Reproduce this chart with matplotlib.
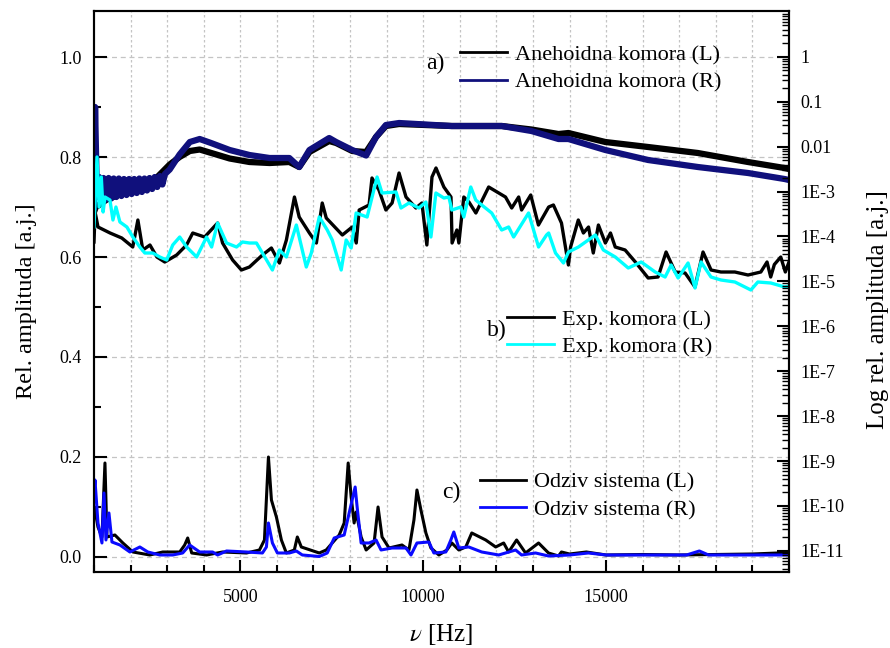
import numpy as np
import matplotlib
matplotlib.use("Agg")
import matplotlib.pyplot as plt
from matplotlib.lines import Line2D
from matplotlib.ticker import MultipleLocator, LogLocator, FixedLocator, FixedFormatter, NullFormatter

plt.rcParams['font.family'] = ['Liberation Serif', 'DejaVu Serif']
plt.rcParams['mathtext.fontset'] = 'stix'

# a) anechoic chamber (left / right channel)
anech_L_hz = [1000, 1050, 1350, 1980, 2530, 3070, 3340, 3620, 3890, 4710, 5250, 5800, 6340,
              6610, 6890, 7430, 7620, 8060, 8440, 8710, 8980, 9340, 10780, 12150, 12960,
              13700, 13970, 14980, 16150, 17510, 18880, 19880, 20000]
anech_L = [0.69, 0.70, 0.715, 0.733, 0.745, 0.785, 0.80, 0.812, 0.815, 0.797, 0.79, 0.788, 0.79,
           0.78, 0.81, 0.832, 0.828, 0.812, 0.81, 0.84, 0.862, 0.866, 0.862, 0.862, 0.855,
           0.846, 0.848, 0.83, 0.82, 0.808, 0.79, 0.778, 0.776]

anech_R_hz = [1000, 1030, 1080, 1140, 1200, 1260, 1330, 1400, 1470, 1540, 1610, 1680, 1750,
              1820, 1890, 1960, 2030, 2100, 2170, 2240, 2310, 2380, 2450, 2520, 2590, 2660,
              2730, 2800, 2870, 2940, 3070, 3340, 3620, 3890, 4200, 4710, 5250, 5800, 6340, 6610,
              6890, 7430, 7620, 8060, 8440, 8710, 8980, 9340, 10780, 12150, 12960, 13700,
              13970, 14980, 16150, 17510, 18880, 19880, 20000]
anech_R = [0.70, 0.90, 0.72, 0.76, 0.712, 0.758, 0.715, 0.758, 0.717, 0.757, 0.72, 0.757, 0.722,
           0.756, 0.724, 0.756, 0.726, 0.756, 0.728, 0.757, 0.73, 0.757, 0.733, 0.758, 0.736, 0.76,
           0.74, 0.762, 0.745, 0.766, 0.775, 0.805, 0.83, 0.836, 0.828, 0.814, 0.804, 0.798, 0.798, 0.78,
           0.814, 0.838, 0.83, 0.814, 0.803, 0.84, 0.864, 0.868, 0.862, 0.862, 0.852, 0.836,
           0.836, 0.814, 0.794, 0.78, 0.768, 0.756, 0.754]

# b) experimental chamber
exp_L_hz = [1000, 1030, 1110, 1440, 1760, 2060, 2200, 2335, 2530, 2720, 2935, 3260, 3530, 3700,
            4025, 4380, 4515, 4790, 5030, 5250, 5605, 5850, 6070, 6260, 6480, 6610, 6890, 7080,
            7240, 7350, 7790, 8060, 8170, 8250, 8520, 8600, 8790, 8980, 9150, 9340, 9530, 9800,
            9965, 10100, 10240, 10350, 10565, 10760, 10790, 10920, 10975, 11110, 11250, 11440,
            11790, 12250, 12420, 12610, 12690, 12940, 13150, 13430, 13560, 13780, 13970, 14030,
            14240, 14380, 14520, 14650, 14790, 14980, 15120, 15250, 15520, 15800, 16150, 16420,
            16640, 16890, 17160, 17430, 17650, 17870, 18140, 18520, 18880, 19230, 19400, 19500,
            19600, 19775, 19900, 20000]
exp_L = [0.63, 0.69, 0.66, 0.648, 0.638, 0.62, 0.674, 0.614, 0.624, 0.60, 0.59, 0.604, 0.624, 0.648,
         0.64, 0.668, 0.628, 0.594, 0.574, 0.58, 0.604, 0.618, 0.588, 0.634, 0.72, 0.68, 0.648, 0.628,
         0.708, 0.678, 0.644, 0.66, 0.628, 0.694, 0.704, 0.758, 0.734, 0.694, 0.708, 0.768, 0.72, 0.698,
         0.708, 0.624, 0.76, 0.778, 0.74, 0.72, 0.628, 0.654, 0.628, 0.72, 0.71, 0.688,
         0.74, 0.72, 0.698, 0.72, 0.694, 0.724, 0.664, 0.70, 0.704, 0.668, 0.584, 0.62,
         0.674, 0.648, 0.66, 0.608, 0.664, 0.628, 0.648, 0.62, 0.614, 0.59, 0.558, 0.56,
         0.61, 0.57, 0.568, 0.54, 0.61, 0.574, 0.57, 0.57, 0.564, 0.57, 0.59, 0.56,
         0.585, 0.60, 0.57, 0.59]

exp_R_hz = [1000, 1082, 1140, 1200, 1250, 1300, 1436, 1518, 1600, 1709, 1899, 2063, 2254, 2390,
            2608, 2799, 2989, 3153, 3344, 3534, 3807, 4079, 4216, 4379, 4624, 4897, 5060, 5251,
            5442, 5605, 5878, 6069, 6259, 6532, 6804, 6941, 7159, 7377, 7513, 7758, 7894, 8031,
            8167, 8467, 8739, 8875, 9257, 9393, 9611, 9884, 10074, 10211, 10347, 10565, 10701,
            10783, 11028, 11110, 11301, 11437, 11600, 11873, 12145, 12336, 12472, 12881, 13154,
            13372, 13430, 13617, 13835, 13971, 14244, 14707, 14925, 15252, 15606, 15960, 16342,
            16614, 16778, 16969, 17241, 17432, 17595, 17868, 18140, 18522, 18958, 19149, 19503,
            19884, 20000]
exp_R = [0.66, 0.80, 0.70, 0.76, 0.69, 0.72, 0.714, 0.674, 0.70, 0.67, 0.66, 0.64, 0.62, 0.608,
         0.608, 0.60, 0.594, 0.624, 0.64, 0.62, 0.60, 0.64, 0.62, 0.668, 0.628, 0.62, 0.63, 0.628,
         0.628, 0.608, 0.574, 0.614, 0.60, 0.664, 0.58, 0.608, 0.68, 0.654, 0.634, 0.574, 0.634, 0.618,
         0.688, 0.68, 0.76, 0.728, 0.73, 0.698, 0.708, 0.698, 0.71, 0.64, 0.728, 0.718, 0.72,
         0.694, 0.70, 0.68, 0.74, 0.714, 0.704, 0.688, 0.654, 0.66, 0.64, 0.688, 0.62,
         0.644, 0.648, 0.608, 0.588, 0.61, 0.62, 0.644, 0.614, 0.60, 0.578, 0.59, 0.57,
         0.56, 0.584, 0.558, 0.588, 0.538, 0.59, 0.56, 0.554, 0.55, 0.534, 0.55, 0.548,
         0.54, 0.542]

# c) system response
sys_L_hz = [1000, 1027, 1109, 1218, 1300, 1354, 1572, 1790, 2063, 2526, 2880, 3344, 3480, 3562,
            3671, 4079, 4515, 5169, 5524, 5660, 5769, 5851, 5987, 6123, 6259, 6477, 6559, 6668,
            7077, 7159, 7349, 7513, 7704, 7840, 7949, 8031, 8112, 8167, 8303, 8440, 8657, 8766,
            8875, 9066, 9420, 9611, 9747, 9829, 9938, 10074, 10211, 10429, 10647, 10783, 10974,
            11164, 11328, 11709, 11982, 12200, 12336, 12554, 12799, 13154, 13426, 13699, 13780,
            14000, 14462, 15000, 16000, 17000, 18000, 19000, 19700, 20000]
sys_L = [0.10, 0.094, 0.06, 0.04, 0.188, 0.04, 0.044, 0.028, 0.01, 0.004, 0.01, 0.01, 0.024, 0.038,
         0.008, 0.004, 0.01, 0.008, 0.014, 0.034, 0.20, 0.114, 0.08, 0.034, 0.008, 0.014, 0.04, 0.02,
         0.01, 0.008, 0.014, 0.028, 0.044, 0.068, 0.188, 0.12, 0.068, 0.09, 0.04, 0.014, 0.028, 0.10,
         0.04, 0.018, 0.024, 0.014, 0.074, 0.134, 0.094, 0.048, 0.018, 0.004, 0.014, 0.028, 0.014,
         0.02, 0.048, 0.034, 0.02, 0.028, 0.01, 0.034, 0.008, 0.028, 0.008, 0.002, 0.01,
         0.006, 0.01, 0.004, 0.005, 0.004, 0.005, 0.006, 0.008, 0.008]

sys_R_hz = [1000, 1027, 1109, 1218, 1273, 1327, 1409, 1491, 1709, 1981, 2254, 2472, 2799, 3153,
            3425, 3616, 3889, 4243, 4379, 4624, 5169, 5605, 5714, 5769, 5878, 6014, 6341, 6532,
            6695, 7159, 7377, 7567, 7840, 7976, 8140, 8194, 8303, 8521, 8712, 8848, 9148, 9529,
            9666, 9829, 10156, 10292, 10619, 10756, 10837, 10974, 11246, 11600, 12064, 12527,
            12690, 13072, 13426, 14000, 14516, 15000, 16000, 17200, 17550, 17800, 19000, 20000]
sys_R = [0.13, 0.154, 0.068, 0.028, 0.128, 0.034, 0.088, 0.03, 0.024, 0.01, 0.02, 0.01, 0.004, 0.004,
         0.008, 0.024, 0.01, 0.01, 0.004, 0.012, 0.01, 0.008, 0.02, 0.068, 0.028, 0.008, 0.008, 0.012,
         0.004, 0.001, 0.008, 0.038, 0.044, 0.088, 0.14, 0.10, 0.028, 0.028, 0.034, 0.014, 0.018, 0.018,
         0.004, 0.028, 0.03, 0.008, 0.01, 0.034, 0.05, 0.018, 0.02, 0.01, 0.004, 0.014,
         0.004, 0.008, 0.002, 0.004, 0.008, 0.004, 0.004, 0.004, 0.012, 0.004, 0.004, 0.004]

log_ticks = [1, 0.1, 0.01, 1e-3, 1e-4, 1e-5, 1e-6, 1e-7, 1e-8, 1e-9, 1e-10, 1e-11]
log_labels = ['1', '0.1', '0.01', '1E-3', '1E-4', '1E-5', '1E-6', '1E-7', '1E-8', '1E-9', '1E-10', '1E-11']

NAVY = '#10107c'
CYAN = '#00ffff'
BLUE = '#0a0aff'

fig = plt.figure(figsize=(8.9, 6.48), dpi=100)
ax = fig.add_axes([0.1056, 0.1173, 0.7809, 0.8657])

ax.plot(anech_L_hz, anech_L, color='black', lw=4.5, zorder=3)
ax.plot(anech_R_hz, anech_R, color=NAVY, lw=4.5, zorder=4)
ax.plot(exp_L_hz, exp_L, color='black', lw=2.4, zorder=3)
ax.plot(exp_R_hz, exp_R, color=CYAN, lw=2.4, zorder=4)
ax.plot(sys_L_hz, sys_L, color='black', lw=2.2, zorder=3)
ax.plot(sys_R_hz, sys_R, color=BLUE, lw=2.2, zorder=4)

ax.set_xlim(1000, 20000)
ax.set_ylim(-0.03, 1.092)
ax.xaxis.set_major_locator(FixedLocator([5000, 10000, 15000]))
ax.xaxis.set_minor_locator(MultipleLocator(1000))
ax.yaxis.set_major_locator(MultipleLocator(0.2))
ax.yaxis.set_minor_locator(MultipleLocator(0.1))
ax.yaxis.set_major_formatter(matplotlib.ticker.FormatStrFormatter('%.1f'))

for x in range(2000, 20000, 1000):
    ax.axvline(x, color='#c4c4c4', lw=0.9, ls=(0, (2, 2)), zorder=1)
for y in [0.0, 0.2, 0.4, 0.6, 0.8, 1.0]:
    ax.axhline(y, color='#c4c4c4', lw=0.9, ls=(0, (4, 3)), zorder=1)

ax.tick_params(which='both', direction='in', width=1.5, labelsize=13, top=False, right=False)
ax.tick_params(which='major', length=9)
ax.tick_params(which='minor', length=5)
ax.tick_params(axis='x', pad=12)
ax.tick_params(axis='y', pad=9)
for s in ax.spines.values():
    s.set_linewidth(1.5)

ax.set_ylabel('Rel. amplituda [a.j.]', fontsize=17.5)
ax.yaxis.set_label_coords(-0.082, 0.483)
ax.set_xlabel(r'$\nu$ [Hz]', fontsize=18, labelpad=12)

ax2 = ax.twinx()
ax2.set_yscale('log')
ax2.set_ylim(10 ** -11.47, 10 ** 1.02)
ax2.yaxis.set_major_locator(FixedLocator(log_ticks))
ax2.yaxis.set_major_formatter(FixedFormatter(log_labels))
ax2.yaxis.set_minor_locator(LogLocator(base=10, subs=np.arange(2, 10), numticks=30))
ax2.yaxis.set_minor_formatter(NullFormatter())
ax2.tick_params(which='both', direction='in', width=1.5, labelsize=13, pad=8)
ax2.tick_params(which='major', length=9)
ax2.tick_params(which='minor', length=5, width=1.0)
ax2.set_ylabel('Log rel. amplituda [a.j.]', fontsize=18)
ax2.yaxis.set_label_coords(1.112, 0.467)
for s in ax2.spines.values():
    s.set_linewidth(1.5)

leg_kw = dict(frameon=False, fontsize=16, handlelength=2.1, handletextpad=0.35,
              labelspacing=0.3, borderpad=0, borderaxespad=0, loc='upper left',
              bbox_transform=fig.transFigure)

h_a = [Line2D([], [], color='black', lw=2), Line2D([], [], color=NAVY, lw=2)]
leg_a = ax2.legend(h_a, ['Anehoidna komora (L)', 'Anehoidna komora (R)'],
                   bbox_to_anchor=(0.517, 0.931), **leg_kw)
ax2.add_artist(leg_a)
h_b = [Line2D([], [], color='black', lw=2), Line2D([], [], color=CYAN, lw=2)]
leg_b = ax2.legend(h_b, ['Exp. komora (L)', 'Exp. komora (R)'],
                   bbox_to_anchor=(0.570, 0.523), **leg_kw)
ax2.add_artist(leg_b)
h_c = [Line2D([], [], color='black', lw=2), Line2D([], [], color=BLUE, lw=2)]
ax2.legend(h_c, ['Odziv sistema (L)', 'Odziv sistema (R)'],
           bbox_to_anchor=(0.539, 0.271), **leg_kw)

fig.text(435 / 890, 1 - 63 / 648, 'a)', fontsize=17, ha='center', va='center')
fig.text(497 / 890, 1 - 330 / 648, 'b)', fontsize=17, ha='center', va='center')
fig.text(451 / 890, 1 - 492 / 648, 'c)', fontsize=17, ha='center', va='center')

fig.savefig('out.png', dpi=100)
